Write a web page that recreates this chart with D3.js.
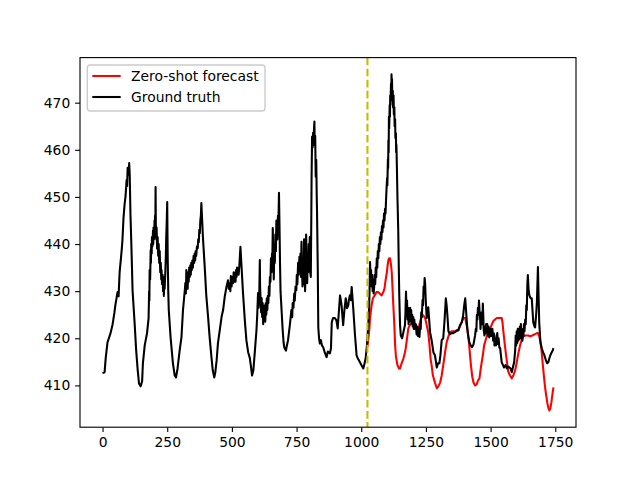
<!DOCTYPE html>
<html lang="en">

<head>
  <meta charset="UTF-8">
  <title>Zero-shot forecast</title>
  <script src="https://d3js.org/d3.v7.min.js"></script>
  <style>
    body {
      margin: 0;
      background: #fff;
    }

    svg {
      display: block;
    }

    text {
      font-family: "DejaVu Sans", sans-serif;
    }
  </style>
</head>

<body>
  <svg width="640" height="480"></svg>
  <script>
    // ground truth: [time step, value]
    const truthPoints = [
      [0, 412.6], [8, 412.8], [12, 415.7], [19, 419.1], [31, 421.1], [39, 423.0], [46, 425.5], [50, 427.2], [58, 429.8], [62, 428.9],
      [66, 434.0], [74, 438.7], [77, 440.9], [81, 445.5], [85, 448.3], [89, 450.2], [93, 453.6], [95, 452.3], [97, 456.2], [101, 454.7],
      [103, 457.2], [105, 454.7], [108, 446.2], [112, 438.7], [116, 430.2], [124, 423.2], [130, 417.4], [136, 413.2], [141, 410.4], [147, 409.8],
      [153, 410.9], [156, 414.7], [163, 418.5], [172, 421.1],
      [178, 424.3], [180, 430.0], [181, 428.0], [182, 434.5], [184, 432.5], [186, 438.7], [187, 436.0], [188, 440.0], [190, 438.0], [191, 441.5],
      [193, 439.5], [195, 442.8], [196, 440.0], [197, 443.5], [199, 441.0], [201, 445.0], [202, 441.5], [203, 446.0], [204, 443.0], [205, 452.1],
      [206, 444.0], [208, 441.0], [209, 443.5], [211, 439.0], [213, 441.5], [215, 437.5], [217, 440.0], [219, 436.0], [221, 438.5], [223, 434.0],
      [225, 436.0], [227, 432.5], [228, 434.5], [230, 431.5], [232, 433.5], [234, 430.0], [236, 432.5], [237, 429.0], [239, 433.0], [240, 430.5],
      [243, 434.5], [245, 438.0], [246, 441.0], [248, 444.5], [250, 448.9], [251, 442.0], [252, 436.6], [254, 430.0], [256, 426.0],
      [263, 420.2], [272, 414.7], [279, 412.1], [284, 411.7], [290, 413.6], [298, 417.4], [305, 420.2], [311, 426.0],
      [318, 430.2], [320, 431.7], [322, 429.5], [324, 434.5], [326, 431.0], [327, 433.5], [329, 430.5], [331, 434.0], [333, 432.0], [335, 435.0],
      [337, 433.0], [339, 435.5], [341, 433.5], [343, 436.0], [345, 434.5], [347, 436.5], [349, 435.0], [352, 437.5], [354, 436.0], [356, 438.0],
      [358, 436.5], [360, 438.5], [362, 437.5], [365, 439.5], [368, 439.1], [370, 441.0], [372, 440.4], [374, 443.0], [376, 442.3], [378, 445.0],
      [380, 446.0], [382, 448.7],
      [385, 445.1], [388, 441.5], [391, 438.7], [395, 435.1], [401, 429.1], [408, 424.5], [414, 420.2], [421, 416.0], [426, 413.2], [432, 411.7],
      [436, 412.8], [441, 415.3], [446, 418.9], [453, 421.7], [460, 424.5], [466, 426.0], [472, 428.7], [479, 430.9], [485, 432.3], [488, 430.5],
      [492, 431.7], [494, 430.0], [496, 433.2], [499, 431.0], [501, 433.0], [504, 431.7], [507, 434.0], [509, 432.0], [511, 433.8], [514, 432.0],
      [516, 434.5], [518, 433.0], [520, 435.0], [523, 434.9], [526, 433.5], [529, 435.5], [533, 439.4], [538, 434.5], [543, 429.6], [550, 423.8],
      [556, 419.6], [563, 417.0], [569, 415.9], [573, 414.3], [578, 412.1], [583, 413.2], [589, 417.4],
      [595, 421.7], [598, 425.0], [601, 429.6], [603, 426.5], [606, 430.0], [608, 436.6], [609, 431.0], [611, 428.0], [613, 425.5], [615, 428.5],
      [617, 424.5], [619, 427.5], [621, 423.0], [623, 426.5], [625, 424.0], [627, 427.0], [629, 423.5], [631, 427.5], [633, 425.0], [635, 428.5],
      [637, 426.0], [639, 429.0], [641, 427.5], [643, 431.0], [645, 429.0], [647, 433.0], [649, 432.0], [651, 437.0], [653, 434.0], [655, 438.0],
      [656, 435.0], [658, 443.4], [660, 437.0], [662, 432.5], [664, 440.0], [666, 436.0], [668, 442.0], [670, 438.5], [672, 445.0], [674, 441.0],
      [676, 441.0], [678, 446.0], [680, 445.0], [682, 450.9], [684, 444.0], [686, 436.0], [688, 430.0], [692, 426.0], [696, 422.0], [700, 419.0],
      [703, 418.0], [709, 417.4], [712, 418.3], [717, 419.6], [724, 422.8],
      [730, 426.0], [733, 424.5], [735, 427.5], [738, 426.5], [741, 429.5], [743, 428.0], [746, 431.0], [749, 430.2], [751, 433.5], [753, 431.5],
      [756, 436.0], [758, 433.5], [761, 437.3], [763, 434.5], [765, 438.0], [767, 433.0], [769, 440.5], [771, 434.5], [773, 431.0], [775, 436.0],
      [777, 431.5], [779, 441.0], [781, 436.0], [783, 430.0], [785, 435.5], [787, 442.0], [789, 436.0], [791, 431.7], [793, 437.0], [795, 434.0],
      [797, 440.0], [799, 436.5], [801, 441.5], [803, 434.0], [805, 433.0], [807, 446.0], [808, 454.0], [810, 462.8], [812, 460.5], [814, 463.6],
      [815, 461.0], [817, 464.0], [819, 466.0], [820, 462.0], [822, 463.0], [824, 454.3], [826, 457.9], [828, 450.0], [829, 447.2], [832, 434.5],
      [834, 422.3], [837, 420.0], [840, 418.9], [844, 419.6], [848, 418.5], [853, 418.1], [859, 417.0], [866, 416.0], [871, 417.2], [879, 416.8],
      [883, 417.9], [886, 423.4], [891, 424.3], [898, 424.3], [904, 423.8], [909, 422.1], [914, 426.0], [918, 429.1], [921, 428.1], [924, 427.0],
      [927, 424.9], [930, 422.8], [935, 426.0], [940, 428.5], [945, 426.4], [950, 427.0], [952, 428.1], [956, 429.1], [960, 428.1], [963, 430.9],
      [966, 428.7], [969, 426.4], [976, 420.6], [982, 416.4], [987, 415.7], [995, 414.9], [1001, 414.3], [1008, 413.6], [1012, 414.5], [1017, 415.7],
      [1022, 418.5],
      [1027, 422.8], [1030, 426.0], [1032, 430.0], [1034, 436.2], [1036, 433.0], [1038, 434.5], [1040, 431.0], [1042, 433.5], [1044, 430.0], [1046, 432.5],
      [1048, 429.5], [1050, 431.0], [1052, 433.5], [1054, 431.5], [1056, 435.0], [1058, 433.0], [1060, 437.0], [1062, 435.0], [1064, 438.5], [1066, 437.0],
      [1068, 440.0], [1070, 438.5], [1072, 441.5], [1074, 440.0], [1076, 442.5], [1078, 441.0], [1080, 443.8], [1082, 442.5], [1084, 445.0], [1086, 443.5],
      [1088, 446.5], [1090, 445.0], [1092, 447.5], [1094, 446.5], [1096, 449.5], [1098, 452.0], [1100, 454.0], [1101, 452.5], [1103, 458.0], [1104, 456.0],
      [1105, 462.0], [1106, 459.5], [1107, 467.0], [1108, 464.5], [1110, 469.5], [1111, 467.0], [1112, 471.5], [1113, 469.5], [1115, 474.0], [1116, 472.0],
      [1117, 476.0], [1118, 473.0], [1119, 475.0], [1120, 470.5], [1122, 472.5], [1123, 469.0], [1125, 471.5], [1126, 467.5], [1128, 469.0], [1129, 465.0],
      [1131, 466.5], [1132, 462.5], [1134, 463.5], [1135, 459.5], [1136, 461.0], [1138, 455.7], [1140, 449.8], [1143, 443.0], [1145, 435.5], [1147, 429.1],
      [1150, 422.8], [1153, 420.6], [1158, 420.0], [1163, 421.3],
      [1169, 422.8], [1171, 425.5], [1173, 429.9], [1175, 426.0], [1177, 428.0], [1179, 424.0], [1181, 426.5], [1183, 423.0], [1185, 425.5], [1187, 423.5],
      [1189, 426.5], [1191, 424.0], [1193, 426.0], [1195, 423.0], [1197, 425.0], [1199, 422.5], [1201, 424.5], [1203, 422.0], [1205, 424.0], [1208, 422.0],
      [1211, 423.0], [1214, 420.8], [1217, 422.5], [1219, 420.5], [1222, 422.0], [1225, 420.3], [1228, 423.0], [1230, 422.0], [1232, 425.5], [1234, 424.5],
      [1237, 428.1], [1239, 427.0], [1241, 431.0], [1243, 430.0], [1245, 432.8], [1247, 431.5], [1249, 428.5],
      [1253, 424.3], [1259, 426.6], [1266, 421.3], [1272, 419.6], [1279, 417.0], [1285, 416.4], [1292, 413.8], [1297, 414.7], [1302, 414.7], [1306, 416.4],
      [1311, 419.6], [1317, 420.0], [1322, 423.8], [1327, 428.5], [1330, 427.0], [1333, 424.9], [1337, 421.5], [1343, 420.9], [1350, 421.1], [1356, 421.1],
      [1362, 421.3], [1369, 421.7], [1375, 421.7], [1382, 422.8], [1389, 423.4], [1394, 424.9], [1398, 427.0], [1402, 428.5], [1405, 426.0], [1409, 422.8],
      [1412, 421.1], [1415, 420.0], [1418, 419.1], [1423, 418.5], [1428, 418.1], [1434, 418.7],
      [1440, 420.6], [1443, 422.0], [1445, 421.5], [1447, 425.0], [1449, 424.0], [1451, 426.5], [1453, 425.0], [1455, 428.0], [1457, 426.0], [1459, 424.9],
      [1461, 422.0], [1463, 424.0], [1466, 425.5], [1468, 423.0], [1470, 427.4], [1472, 424.5], [1473, 422.0], [1476, 420.6], [1478, 422.5], [1481, 421.0],
      [1483, 423.0], [1485, 421.5], [1487, 423.0], [1490, 420.5], [1492, 422.5], [1495, 420.2], [1497, 422.0], [1500, 420.5], [1502, 422.0], [1505, 420.5],
      [1507, 422.0], [1510, 419.5], [1513, 421.0], [1515, 418.5], [1517, 420.0], [1521, 418.5], [1523, 420.5], [1526, 421.1], [1528, 418.8], [1531, 420.0],
      [1534, 418.0], [1537, 417.9],
      [1540, 416.4], [1543, 414.9], [1548, 414.3], [1552, 413.8], [1558, 414.3], [1563, 413.6], [1568, 414.0], [1573, 413.8], [1577, 413.6], [1582, 412.8],
      [1587, 414.0], [1591, 414.9],
      [1595, 417.4], [1597, 420.6], [1599, 418.5], [1601, 421.5], [1603, 419.0], [1605, 422.0], [1607, 419.5], [1609, 422.0], [1611, 419.8], [1613, 422.5],
      [1615, 420.0], [1617, 423.0], [1619, 420.0], [1621, 422.0], [1623, 419.5], [1625, 421.5], [1627, 420.5], [1629, 423.0], [1631, 421.5], [1634, 424.0],
      [1636, 423.0], [1638, 427.0], [1640, 426.0], [1642, 431.3], [1644, 433.4],
      [1647, 430.2], [1650, 429.1], [1655, 428.5], [1659, 428.5], [1662, 426.0], [1665, 423.4], [1669, 422.6], [1672, 422.3], [1676, 424.9], [1679, 427.7],
      [1681, 431.3], [1683, 435.1], [1685, 430.2], [1688, 423.4], [1691, 420.6], [1693, 419.1], [1698, 417.9], [1703, 417.0], [1708, 416.4], [1714, 415.3],
      [1719, 414.7], [1723, 414.9], [1727, 415.7], [1731, 416.4], [1736, 417.0], [1740, 417.4], [1743, 417.9]
    ]

    // zero-shot forecast, starts where the context ends: [time step, value]
    const forecastPoints = [
      [1024, 418.2], [1031, 421.7], [1034, 424.3], [1040, 427.0], [1045, 428.5], [1052, 429.1], [1059, 429.8], [1066, 429.8], [1073, 429.4], [1079, 429.1],
      [1085, 429.8], [1090, 430.6], [1094, 432.3], [1099, 434.0], [1102, 435.5], [1105, 436.6], [1108, 437.0], [1111, 437.0], [1115, 435.7], [1118, 434.0],
      [1121, 430.6], [1124, 427.0], [1128, 422.8], [1131, 418.5], [1134, 416.2], [1140, 414.3], [1146, 413.6], [1150, 413.6], [1156, 414.7], [1163, 415.7],
      [1169, 417.0], [1172, 417.9], [1177, 420.0], [1182, 422.1], [1188, 422.8], [1195, 423.2], [1200, 423.0], [1208, 422.8], [1213, 422.1], [1220, 421.7],
      [1227, 423.4], [1234, 424.9], [1239, 424.9], [1247, 424.3], [1253, 422.8], [1259, 421.3], [1264, 418.5], [1268, 415.7], [1272, 414.3], [1277, 412.1],
      [1285, 410.6], [1292, 409.4], [1298, 409.8], [1305, 410.6], [1311, 412.1], [1317, 414.3], [1324, 417.0], [1330, 419.1], [1337, 420.4], [1343, 421.3],
      [1351, 421.5], [1359, 421.5], [1369, 421.5], [1375, 421.7], [1382, 422.6], [1389, 423.6], [1395, 424.3], [1402, 424.3], [1409, 422.3], [1415, 420.0],
      [1419, 417.4], [1424, 414.3], [1429, 411.9], [1434, 410.6], [1440, 410.0], [1446, 410.2], [1452, 411.1], [1457, 411.5], [1462, 413.6], [1470, 416.4],
      [1475, 418.5], [1483, 420.0], [1490, 421.3], [1495, 421.7], [1502, 422.6], [1510, 423.6], [1517, 424.0], [1524, 424.3], [1530, 424.3], [1537, 424.3],
      [1543, 424.3], [1546, 423.4], [1549, 421.7], [1554, 419.1], [1560, 416.4], [1564, 414.7], [1568, 413.0], [1575, 412.1], [1582, 411.5], [1588, 412.1],
      [1595, 413.2], [1601, 414.9], [1608, 417.0], [1614, 418.5], [1621, 419.8], [1627, 420.4], [1634, 420.6], [1646, 420.6], [1653, 420.4], [1661, 420.6],
      [1672, 420.9], [1679, 421.1], [1683, 421.1], [1688, 420.4], [1692, 419.4], [1697, 417.4], [1702, 414.3], [1707, 411.5], [1711, 409.4], [1715, 407.9],
      [1719, 406.4], [1723, 405.3], [1727, 404.7], [1731, 405.1], [1735, 406.4], [1738, 407.7], [1741, 408.9], [1743, 409.6]
    ]

    const contextEnd = 1024
    const xTicks = [0, 250, 500, 750, 1000, 1250, 1500, 1750]
    const yTicks = [410, 420, 430, 440, 450, 460, 470]
    const seriesNames = ["Zero-shot forecast", "Ground truth"]
    const seriesColors = ["#ff0000", "#000000"]

    const pt = 100 / 72 // matplotlib points -> px at 100 dpi
    const marginLeft = 80, marginTop = 57.6, plotW = 496, plotH = 369.6

    const truth = truthPoints.map(([x, y]) => ({ x, y }))
    const forecast = forecastPoints.map(([x, y]) => ({ x, y }))
    const all = truth.concat(forecast)

    // 5% padding like matplotlib autoscale
    function padded(ext) {
      const m = (ext[1] - ext[0]) * 0.05
      return [ext[0] - m, ext[1] + m]
    }

    const xScale = d3.scaleLinear().domain(padded(d3.extent(all, d => d.x))).range([0, plotW])
    const yScale = d3.scaleLinear().domain(padded(d3.extent(all, d => d.y))).range([plotH, 0])

    const svg = d3.select("svg")
    const g = svg.append("g").attr("transform", `translate(${marginLeft},${marginTop})`)

    g.append("defs").append("clipPath").attr("id", "clip")
      .append("rect").attr("width", plotW).attr("height", plotH)

    const line = d3.line().x(d => xScale(d.x)).y(d => yScale(d.y))
    const plot = g.append("g").attr("clip-path", "url(#clip)")

    plot.append("path")
      .datum(forecast)
      .attr("fill", "none")
      .attr("stroke", seriesColors[0])
      .attr("stroke-width", 1.5 * pt)
      .attr("stroke-linejoin", "round")
      .attr("d", line)

    plot.append("path")
      .datum(truth)
      .attr("fill", "none")
      .attr("stroke", seriesColors[1])
      .attr("stroke-width", 1.5 * pt)
      .attr("stroke-linejoin", "round")
      .attr("d", line)

    plot.append("line")
      .attr("x1", xScale(contextEnd)).attr("x2", xScale(contextEnd))
      .attr("y1", 0).attr("y2", plotH)
      .attr("stroke", "#bfbf00")
      .attr("stroke-width", 1.5 * pt)
      .attr("stroke-dasharray", `${5.55 * pt},${2.4 * pt}`)

    // axes
    const xAxis = g.append("g")
      .attr("transform", `translate(0,${plotH})`)
      .call(d3.axisBottom(xScale).tickValues(xTicks).tickFormat(d3.format("d"))
        .tickSize(3.5 * pt).tickPadding(3.5 * pt).tickSizeOuter(0))
    const yAxis = g.append("g")
      .call(d3.axisLeft(yScale).tickValues(yTicks).tickFormat(d3.format("d"))
        .tickSize(3.5 * pt).tickPadding(3.5 * pt).tickSizeOuter(0))

    for (const ax of [xAxis, yAxis]) {
      ax.select(".domain").remove()
      ax.selectAll(".tick line").attr("stroke", "#000").attr("stroke-width", 0.8 * pt)
      ax.selectAll(".tick text")
        .attr("fill", "#000")
        .style("font-family", "'DejaVu Sans', sans-serif")
        .style("font-size", (10 * pt) + "px")
    }

    g.append("rect")
      .attr("width", plotW).attr("height", plotH)
      .attr("fill", "none")
      .attr("stroke", "#000")
      .attr("stroke-width", 0.8 * pt)

    // legend
    const lg = g.append("g").attr("transform", "translate(7.3,7.4)")
    lg.append("rect")
      .attr("width", 177.7).attr("height", 46)
      .attr("rx", 3).attr("ry", 3)
      .attr("fill", "#fff").attr("fill-opacity", 0.8)
      .attr("stroke", "#cccccc").attr("stroke-width", 1 * pt)

    seriesNames.forEach((name, i) => {
      const row = lg.append("g").attr("transform", `translate(0,${11 + i * 21})`)
      row.append("line")
        .attr("x1", 5).attr("x2", 33.4)
        .attr("stroke", seriesColors[i])
        .attr("stroke-width", 1.5 * pt)
      row.append("text")
        .attr("x", 43.7).attr("y", 5)
        .style("font-size", (10 * pt) + "px")
        .attr("fill", "#000")
        .text(name)
    })
  </script>
</body>

</html>
